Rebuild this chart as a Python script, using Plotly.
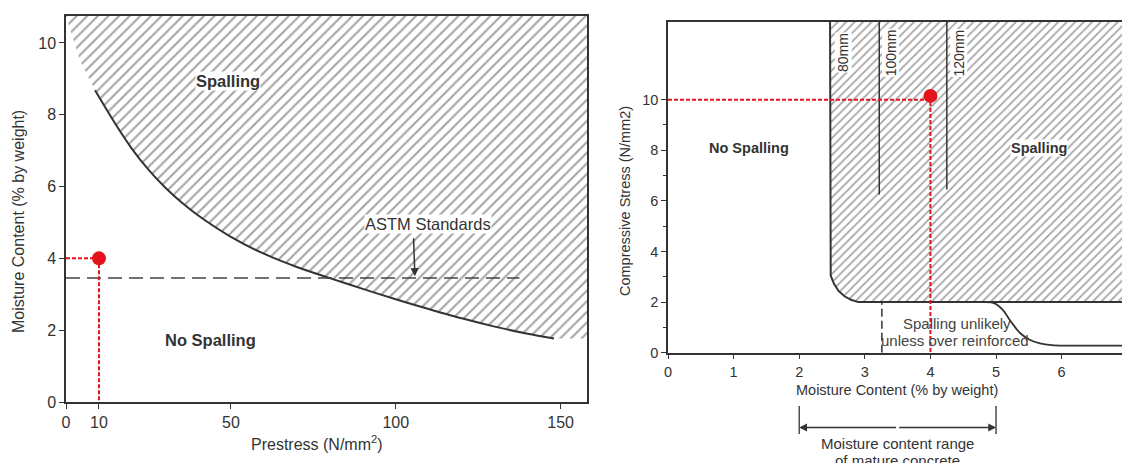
import plotly.graph_objects as go

W, H = 1122, 463

# ---------------- Left chart data (Prestress vs moisture content) ----------------
prestress_ticks = [0, 10, 50, 100, 150]
moisture_ticks_left = [0, 2, 4, 6, 8, 10]
boundary_x = [8.8, 15, 20, 25, 30, 35, 40, 50, 60, 70, 80, 90, 100, 110, 120, 130, 140, 148]
boundary_y = [8.68, 7.74, 7.05, 6.47, 5.98, 5.56, 5.20, 4.60, 4.13, 3.76, 3.45, 3.15, 2.86, 2.59, 2.33, 2.10, 1.90, 1.77]
hatch_lead_x = [0.0, 4.2]
hatch_lead_y = [10.75, 9.52]
astm_x = [0, 137.5]
astm_y = [3.45, 3.45]
case_left_x = [10]
case_left_y = [4.0]
left_xrange = [0, 158]
left_yrange = [0, 10.75]

# ---------------- Right chart data (moisture content vs compressive stress) ----------------
moisture_ticks_right = [0, 1, 2, 3, 4, 5, 6]
stress_ticks = [0, 2, 4, 6, 8, 10]
stress_minor = [1, 3, 5, 7, 9]
envelope_x = [2.47, 2.47, 2.48, 2.53, 2.60, 2.69, 2.79, 2.90, 6.92]
envelope_y = [13.07, 3.4, 3.05, 2.72, 2.44, 2.23, 2.09, 2.0, 2.0]
unlikely_x = [4.85, 4.98, 5.10, 5.21, 5.37, 5.52, 5.67, 5.85, 6.10, 6.92]
unlikely_y = [2.0, 1.95, 1.70, 1.29, 0.77, 0.50, 0.37, 0.30, 0.28, 0.28]
thickness_names = ["80mm", "100mm", "120mm"]
thickness_x = [2.47, 3.22, 4.25]
thickness_bottom = [3.4, 6.25, 6.45]
thickness_label_x = [2.67, 3.39, 4.43]
cut_x = 3.26
cut_y = [0, 2.0]
mature_range = [2, 5]
case_right_x = [4.0]
case_right_y = [10.15]
case_right_guide = 10.0
right_xrange = [0, 6.92]
right_yrange = [0, 13.07]

INK = "#333333"
HATCH = "#4a4a4a"
RED = "#e3141b"
FONT = "Liberation Sans, Arial, sans-serif"

fig = go.Figure()

# ---- left: hatched spalling region ----
poly_x = hatch_lead_x + boundary_x + [left_xrange[1], left_xrange[1]]
poly_y = hatch_lead_y + boundary_y + [boundary_y[-1], left_yrange[1]]
fig.add_trace(go.Scatter(
    x=poly_x, y=poly_y, mode="lines", fill="toself", line=dict(width=0),
    fillcolor="white",
    fillpattern=dict(shape="/", size=7.5, solidity=0.28, fgcolor=HATCH, bgcolor="white"),
    xaxis="x", yaxis="y", hoverinfo="skip"))
fig.add_trace(go.Scatter(x=boundary_x, y=boundary_y, mode="lines",
                         line=dict(color=INK, width=2, shape="spline", smoothing=0.8),
                         xaxis="x", yaxis="y"))
fig.add_trace(go.Scatter(x=astm_x, y=astm_y, mode="lines", line=dict(color="#444444", width=1.5, dash="14px,7px"),
                         xaxis="x", yaxis="y"))
# red guides left
fig.add_trace(go.Scatter(x=[0, case_left_x[0]], y=[case_left_y[0]] * 2, mode="lines",
                         line=dict(color=RED, width=2, dash="4px,2px"), xaxis="x", yaxis="y"))
fig.add_trace(go.Scatter(x=[case_left_x[0]] * 2, y=[case_left_y[0], 0], mode="lines",
                         line=dict(color=RED, width=2, dash="4px,2px"), xaxis="x", yaxis="y"))
fig.add_trace(go.Scatter(x=case_left_x, y=case_left_y, mode="markers",
                         marker=dict(color=RED, size=14), xaxis="x", yaxis="y"))

# ---- right: hatched spalling region ----
rpoly_x = envelope_x + [right_xrange[1]]
rpoly_y = envelope_y + [right_yrange[1]]
fig.add_trace(go.Scatter(
    x=rpoly_x, y=rpoly_y, mode="lines", fill="toself", line=dict(width=0),
    fillcolor="white",
    fillpattern=dict(shape="/", size=6, solidity=0.3, fgcolor=HATCH, bgcolor="white"),
    xaxis="x2", yaxis="y2", hoverinfo="skip"))
fig.add_trace(go.Scatter(x=envelope_x, y=envelope_y, mode="lines", line=dict(color=INK, width=2),
                         xaxis="x2", yaxis="y2"))
for tx, tb in zip(thickness_x[1:], thickness_bottom[1:]):
    fig.add_trace(go.Scatter(x=[tx, tx], y=[right_yrange[1], tb], mode="lines",
                             line=dict(color=INK, width=1.5), xaxis="x2", yaxis="y2"))
fig.add_trace(go.Scatter(x=unlikely_x, y=unlikely_y, mode="lines", line=dict(color=INK, width=1.8, shape="spline"),
                         xaxis="x2", yaxis="y2"))
fig.add_trace(go.Scatter(x=[cut_x, cut_x], y=cut_y, mode="lines", line=dict(color=INK, width=1.5, dash="8px,4px"),
                         xaxis="x2", yaxis="y2"))
fig.add_trace(go.Scatter(x=[0, case_right_x[0]], y=[case_right_guide] * 2, mode="lines",
                         line=dict(color=RED, width=2, dash="4px,2px"), xaxis="x2", yaxis="y2"))
fig.add_trace(go.Scatter(x=[case_right_x[0]] * 2, y=[case_right_y[0], 0], mode="lines",
                         line=dict(color=RED, width=2, dash="4px,2px"), xaxis="x2", yaxis="y2"))
fig.add_trace(go.Scatter(x=case_right_x, y=case_right_y, mode="markers",
                         marker=dict(color=RED, size=14), xaxis="x2", yaxis="y2"))

ann = []
def txt(x, y, s, xref, yref, size=14, bold=False, bg=None, angle=0, color=INK):
    d = dict(x=x, y=y, xref=xref, yref=yref, text=("<b>%s</b>" % s) if bold else s, showarrow=False,
             xanchor="center", yanchor="middle",
             font=dict(family=FONT, size=size, color=color), textangle=angle, borderpad=0)
    if bg:
        d["bgcolor"] = bg
    ann.append(d)

# left labels
txt(49, 8.95, "Spalling", "x", "y", 16.5, True, "white")
txt(43.8, 1.72, "No Spalling", "x", "y", 16.5, True)
txt(109.9, 4.95, "ASTM Standards", "x", "y", 16.5, False, "white")
ann.append(dict(x=105.8, y=3.5, xref="x", yref="y", ax=105.4, ay=4.6, axref="x", ayref="y", text="",
                showarrow=True, arrowhead=2, arrowsize=1.1, arrowwidth=1.5, arrowcolor=INK, standoff=0))
txt(317 / W, 1 - 443 / H, "Prestress (N/mm<sup>2</sup>)", "paper", "paper", 16)
txt(19 / W, 1 - 222 / H, "Moisture Content (% by weight)", "paper", "paper", 16, angle=-90)

# right labels
txt(1.23, 8.1, "No Spalling", "x2", "y2", 14.5, True)
txt(5.66, 8.1, "Spalling", "x2", "y2", 14.5, True, "white")
for name, lx in zip(thickness_names, thickness_label_x):
    txt(lx, 11.85, name, "x2", "y2", 14, False, "white", angle=-90)
txt(4.4, 1.16, "Spalling unlikely", "x2", "y2", 15, color="#444444")
txt(4.37, 0.47, "unless over reinforced", "x2", "y2", 15, color="#444444")
txt(897 / W, 1 - 390 / H, "Moisture Content (% by weight)", "paper", "paper", 14.5)
txt(625 / W, 1 - 201 / H, "Compressive Stress (N/mm2)", "paper", "paper", 14.5, angle=-90)
mid = (mature_range[0] + mature_range[1]) / 2
txt(mid, 1 - 443 / H, "Moisture content range", "x2", "paper", 15)
txt(mid, 1 - 460 / H, "of mature concrete", "x2", "paper", 15)
for end in mature_range:
    ann.append(dict(x=end, y=1 - 427.5 / H, xref="x2", yref="paper", ax=mid, ay=0, axref="x2", ayref="pixel",
                    text="", showarrow=True, arrowhead=2, arrowsize=1.2, arrowwidth=1.3, arrowcolor=INK, standoff=0))

shapes = []
for end in mature_range:
    shapes.append(dict(type="line", xref="x2", yref="paper", x0=end, x1=end, y0=1 - 406 / H, y1=1 - 434 / H,
                       line=dict(color=INK, width=1.3)))

axis_common = dict(showline=True, linecolor=INK, linewidth=1.5, showgrid=False, zeroline=False,
                   ticks="outside", tickcolor=INK, tickwidth=1.3, tickmode="array", automargin=False)

fig.update_layout(
    width=W, height=H, margin=dict(l=0, r=0, t=0, b=0, autoexpand=False),
    paper_bgcolor="white", plot_bgcolor="white", showlegend=False,
    font=dict(family=FONT, color=INK),
    xaxis=dict(domain=[66 / W, 587 / W], range=left_xrange, tickvals=prestress_ticks, mirror=True,
               ticklen=5, tickfont=dict(size=16, color=INK), anchor="y", **axis_common),
    yaxis=dict(domain=[1 - 402 / H, 1 - 16 / H], range=left_yrange, tickvals=moisture_ticks_left, mirror=True,
               ticklen=5, tickfont=dict(size=16, color=INK), anchor="x", **axis_common),
    xaxis2=dict(domain=[668 / W, 1.0], range=right_xrange, tickvals=moisture_ticks_right, mirror=True,
                ticklen=5, tickfont=dict(size=14.5, color=INK), anchor="y2", **axis_common),
    yaxis2=dict(domain=[1 - 352.7 / H, 1 - 22 / H], range=right_yrange, tickvals=stress_ticks,
                ticklen=5, tickfont=dict(size=14.5, color=INK), anchor="x2",
                minor=dict(tickvals=stress_minor, ticks="outside", ticklen=3, tickcolor=INK),
                **axis_common),
    annotations=ann, shapes=shapes,
)

fig.write_html("out.html")
